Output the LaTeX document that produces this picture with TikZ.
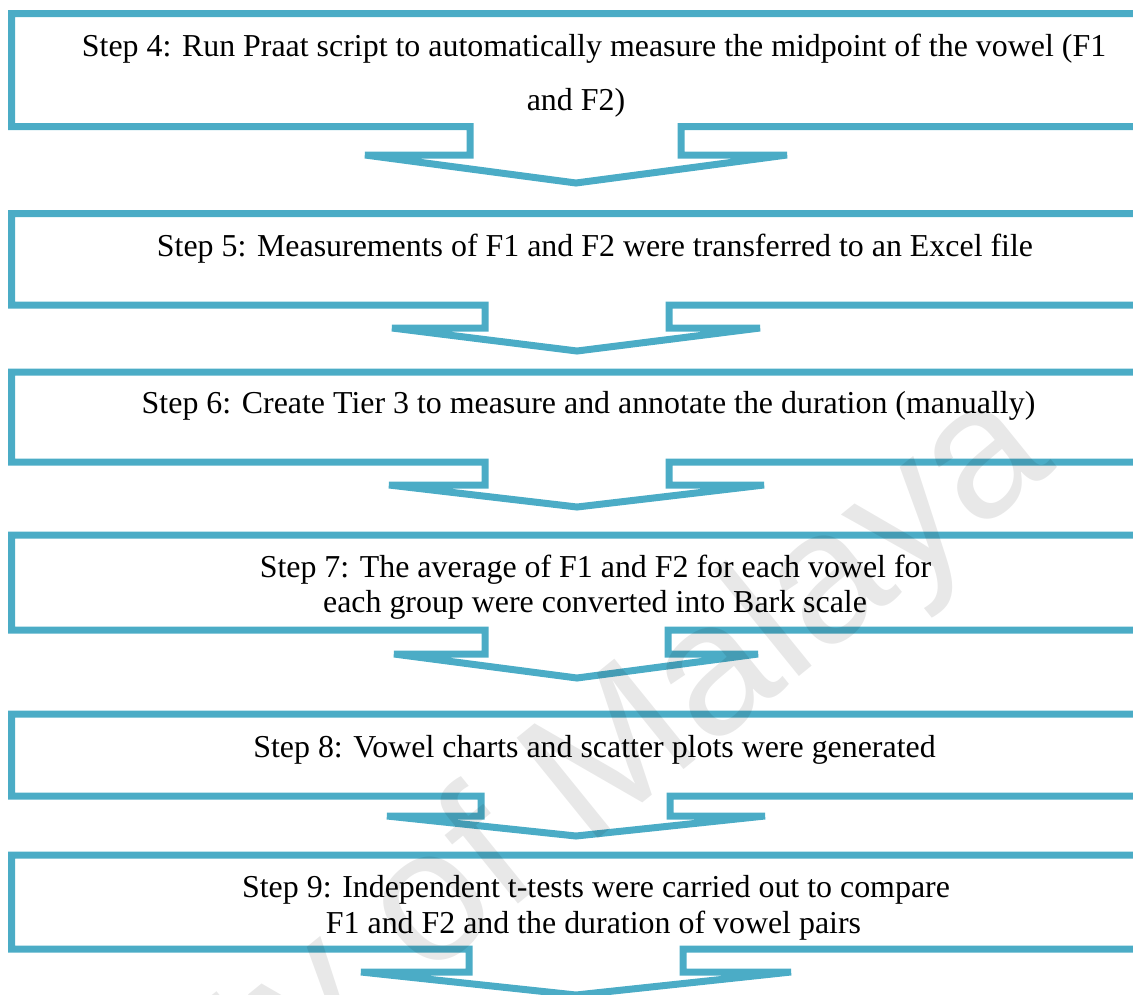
\documentclass[tikz,border=0pt]{standalone}
\usepackage{fontspec}
\setmainfont{Liberation Serif}
\newfontfamily\markfont{Liberation Sans}
\definecolor{stepblue}{HTML}{4BACC6}
% Outline of one step box with its downward chevron:
% #1 top, #2 bottom, #3 left notch x, #4 right notch x, #5 chevron y,
% #6 chevron left end x, #7 chevron right end x, #8 tip x, #9 tip y
\newcommand\stepoutline[9]{%
  \draw[stepline] (11.5,#1) -- (1160,#1) -- (1160,#2) -- (#4,#2) -- (#4,#5)
    -- (#7,#5) -- (#8,#9) -- (#6,#5) -- (#3,#5) -- (#3,#2) -- (11.5,#2) -- cycle;}
\begin{document}
\begin{tikzpicture}[x=1pt,y=-1pt,
  stepline/.style={draw=stepblue,line width=7pt},
  steptext/.style={anchor=base,inner sep=0pt,font=\fontsize{31.9}{36}\selectfont},
]
\useasboundingbox (0,0) rectangle (1133,994);
\clip (0,0) rectangle (1133,994);

% step boxes
\stepoutline{13.5}{126.5}{470}{681}{155}{365}{787}{576}{183}
\stepoutline{213.5}{305}{485}{669}{328}{392}{760}{577}{351}
\stepoutline{372}{462}{485}{669}{485}{389}{764}{577}{507}
\stepoutline{535}{630}{485}{668}{654}{394}{758}{577}{678}
\stepoutline{714}{796}{481}{670}{816}{387}{765}{576}{836}
\stepoutline{855}{949}{469}{683}{972}{361}{791}{576}{995}

% step texts
\node[steptext] (s4a) at (594,56) {Step 4: Run Praat script to automatically measure the midpoint of the vowel (F1};
\node[steptext] (s4b) at (576,110) {and F2)};
\node[steptext] (s5) at (595,256) {Step 5: Measurements of F1 and F2 were transferred to an Excel file};
\node[steptext] (s6) at (588.5,413) {Step 6: Create Tier 3 to measure and annotate the duration (manually)};
\node[steptext] (s7a) at (595.5,577) {Step 7: The average of F1 and F2 for each vowel for};
\node[steptext] (s7b) at (595,612) {each group were converted into Bark scale};
\node[steptext] (s8) at (594.5,757) {Step 8: Vowel charts and scatter plots were generated};
\node[steptext] (s9a) at (596,897) {Step 9: Independent t-tests were carried out to compare};
\node[steptext] (s9b) at (593.5,933) {F1 and F2 and the duration of vowel pairs};

% watermark
\node[rotate=39,anchor=base,inner sep=0pt,text=black,opacity=0.09,
  font=\markfont\fontsize{188}{190}\selectfont] (mark) at (400,1000) {University of Malaya};
\end{tikzpicture}
\end{document}
